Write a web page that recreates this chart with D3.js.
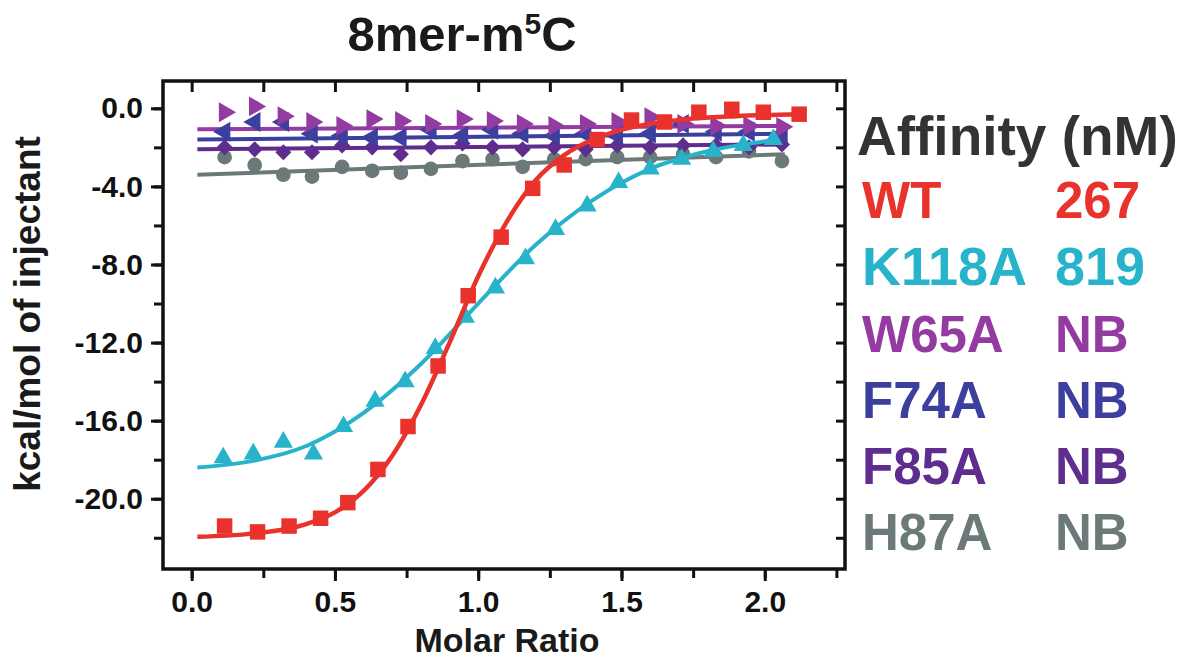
<!DOCTYPE html>
<html>
<head>
<meta charset="utf-8">
<script src="https://cdn.jsdelivr.net/npm/d3@7"></script>
<style>
  body { margin: 0; background: #fff; }
  text { font-family: "Liberation Sans", Arial, sans-serif; font-weight: bold; }
</style>
</head>
<body>
<div id="chart"></div>
<script>
// data
const wtX = [0.115,0.23,0.34,0.45,0.545,0.65,0.755,0.86,0.965,1.08,1.19,1.30,1.415,1.535,1.65,1.77,1.885,1.995,2.12]
const wtY = [-21.4,-21.7,-21.4,-21.0,-20.2,-18.5,-16.3,-13.2,-9.6,-6.6,-4.1,-2.9,-1.6,-0.6,-0.7,-0.2,-0.05,-0.2,-0.3]
const wtFitX = [0.02,0.2,0.4,0.5,0.6,0.7,0.8,0.9,1.0,1.1,1.2,1.3,1.4,1.5,1.7,1.9,2.12]
const wtFitY = [-21.95,-21.8,-21.3,-20.7,-19.6,-17.8,-15.2,-12.0,-8.6,-5.8,-3.7,-2.4,-1.6,-1.1,-0.6,-0.4,-0.3]

const kX = [0.11,0.215,0.32,0.425,0.53,0.64,0.745,0.85,0.955,1.06,1.165,1.27,1.38,1.49,1.6,1.71,1.82,1.925,2.03]
const kY = [-17.9,-17.7,-17.1,-17.7,-16.3,-15.0,-14.0,-12.3,-10.7,-9.2,-7.7,-6.2,-5.0,-3.8,-3.1,-2.6,-2.2,-1.9,-1.6]
const kFitX = [0.02,0.2,0.4,0.6,0.8,1.0,1.2,1.4,1.6,1.8,2.05]
const kFitY = [-18.4,-18.1,-17.3,-15.6,-13.1,-10.0,-7.0,-4.7,-3.1,-2.2,-1.6]

const flatX = [0.115,0.22,0.32,0.42,0.525,0.63,0.73,0.835,0.945,1.05,1.155,1.265,1.375,1.485,1.6,1.715,1.83,1.945,2.06]
const w65aY = [-0.2,0.1,-0.4,-0.7,-0.9,-0.55,-0.65,-0.8,-0.55,-0.65,-0.8,-0.9,-0.8,-0.7,-0.45,-0.8,-0.9,-0.9,-0.95]
const f74aY = [-1.2,-0.7,-0.7,-1.3,-1.4,-1.5,-1.5,-1.1,-1.4,-1.1,-1.3,-1.4,-1.3,-1.4,-1.3,-0.8,-1.2,-1.2,-1.3]
const f85aY = [-2.0,-2.1,-2.25,-2.25,-1.9,-2.0,-2.35,-2.0,-1.8,-2.0,-2.1,-2.0,-2.1,-1.9,-2.0,-1.9,-1.9,-2.0,-1.85]
const h87aY = [-2.5,-2.9,-3.4,-3.5,-3.0,-3.2,-3.3,-3.1,-2.7,-2.6,-3.0,-2.6,-2.6,-2.5,-2.5,-2.35,-2.5,-2.2,-2.7]
const flatFitX = [0.02,2.07]
const w65aFit = [-1.07,-0.9]
const f74aFit = [-1.6,-1.3]
const f85aFit = [-2.1,-1.85]
const h87aFit = [-3.4,-2.35]

const names = ["WT","K118A","W65A","F74A","F85A","H87A"]
const affinity = ["267","819","NB","NB","NB","NB"]
const colors = ["#e8322b","#27b3ca","#943ba2","#3c3f9e","#5e2d8e","#6b7978"]

const xTicks = [0,0.5,1.0,1.5,2.0]
const yTicks = [0,-4,-8,-12,-16,-20]

margin = ({top: 81, right: 342, bottom: 89, left: 163})
width = 1187
height = 658
visWidth = width - margin.left - margin.right
visHeight = height - margin.top - margin.bottom

xscale = d3.scaleLinear().domain([-0.1, 2.28]).range([0, visWidth])
yscale = d3.scaleLinear().domain([-23.6, 1.4]).range([visHeight, 0])

const svg = d3.select('#chart').append('svg')
    .attr('width', width)
    .attr('height', height)

const g = svg.append('g')
    .attr('transform', `translate(${margin.left}, ${margin.top})`)

// title
svg.append("text")
    .attr("x", 462).attr("y", 51)
    .attr("text-anchor", "middle")
    .attr("font-size", "49px")
    .attr("fill", "#1a1a1a")
    .call(t => {
      t.append("tspan").text("8mer-m")
      t.append("tspan").attr("font-size", "30px").attr("dy", -17).text("5")
      t.append("tspan").attr("dy", 17).text("C")
    })

// axes
const minorX = d3.range(-0.0, 2.26, 0.25)
const minorY = d3.range(0, -23.5, -2)
const fmt = d => d.toFixed(1)

function styleAxis(sel) {
  sel.select(".domain").remove()
  sel.selectAll(".tick line").attr("stroke", "#111").attr("stroke-width", 3)
}

g.append("g").attr("transform", `translate(0,${visHeight})`)
    .call(d3.axisBottom(xscale).tickValues(minorX).tickSize(9).tickFormat(""))
    .call(styleAxis)
g.append("g").attr("transform", `translate(0,${visHeight})`)
    .call(d3.axisBottom(xscale).tickValues(xTicks).tickSize(12).tickPadding(10).tickFormat(fmt))
    .call(styleAxis)
    .call(a => a.selectAll("text").attr("font-size", "30px").attr("fill", "#111").attr("font-family", "Liberation Sans"))

g.append("g")
    .call(d3.axisTop(xscale).tickValues(minorX).tickSize(-11).tickFormat(""))
    .call(styleAxis)

g.append("g")
    .call(d3.axisLeft(yscale).tickValues(minorY).tickSize(9).tickFormat(""))
    .call(styleAxis)
g.append("g")
    .call(d3.axisLeft(yscale).tickValues(yTicks).tickSize(12).tickPadding(8).tickFormat(fmt))
    .call(styleAxis)
    .call(a => a.selectAll("text").attr("font-size", "30px").attr("fill", "#111").attr("font-family", "Liberation Sans"))

g.append("g").attr("transform", `translate(${visWidth},0)`)
    .call(d3.axisRight(yscale).tickValues(minorY).tickSize(-9).tickFormat(""))
    .call(styleAxis)

// frame
g.append("rect")
    .attr("width", visWidth).attr("height", visHeight)
    .attr("fill", "none").attr("stroke", "#111").attr("stroke-width", 3.5)

// axis labels
svg.append("text")
    .attr("x", 507).attr("y", 652)
    .attr("text-anchor", "middle")
    .attr("font-size", "34px")
    .attr("fill", "#1a1a1a")
    .text("Molar Ratio")

svg.append("text")
    .attr("transform", "translate(40,314) rotate(-90)")
    .attr("text-anchor", "middle")
    .attr("font-size", "37px")
    .attr("fill", "#1a1a1a")
    .text("kcal/mol of injectant")

// fit lines
const line = d3.line().x(d => xscale(d[0])).y(d => yscale(d[1])).curve(d3.curveMonotoneX)
const zip = (a, b) => a.map((v, i) => [v, b[i]])

const flats = [
  {c: colors[5], fit: h87aFit, ys: h87aY, sym: d3.symbolCircle, size: 170, rot: 0},
  {c: colors[4], fit: f85aFit, ys: f85aY, sym: d3.symbolSquare, size: 130, rot: 45},
  {c: colors[3], fit: f74aFit, ys: f74aY, sym: d3.symbolTriangle, size: 170, rot: -90},
  {c: colors[2], fit: w65aFit, ys: w65aY, sym: d3.symbolTriangle, size: 170, rot: 90}
]

flats.forEach(s => {
  g.append("path")
      .datum(zip(flatFitX, s.fit))
      .attr("fill", "none").attr("stroke", s.c).attr("stroke-width", 4)
      .attr("d", line)
})
flats.forEach(s => {
  g.selectAll(null)
    .data(zip(flatX, s.ys))
    .join("path")
      .attr("transform", d => `translate(${xscale(d[0])},${yscale(d[1])}) rotate(${s.rot})`)
      .attr("d", d3.symbol().type(s.sym).size(s.size))
      .attr("fill", s.c)
})

// K118A
g.append("path")
    .datum(zip(kFitX, kFitY))
    .attr("fill", "none").attr("stroke", colors[1]).attr("stroke-width", 4)
    .attr("d", line)
g.selectAll(null)
  .data(zip(kX, kY))
  .join("path")
    .attr("transform", d => `translate(${xscale(d[0])},${yscale(d[1])})`)
    .attr("d", d3.symbol().type(d3.symbolTriangle).size(160))
    .attr("fill", colors[1])

// WT
g.append("path")
    .datum(zip(wtFitX, wtFitY))
    .attr("fill", "none").attr("stroke", colors[0]).attr("stroke-width", 4.5)
    .attr("d", line)
g.selectAll(null)
  .data(zip(wtX, wtY))
  .join("path")
    .attr("transform", d => `translate(${xscale(d[0])},${yscale(d[1])})`)
    .attr("d", d3.symbol().type(d3.symbolSquare).size(240))
    .attr("fill", colors[0])

// legend
svg.append("text")
    .attr("x", 857).attr("y", 155)
    .attr("font-size", "55px")
    .attr("fill", "#333")
    .text("Affinity (nM)")

const rowY = [218, 285, 352, 418, 484, 550]
names.forEach((n, i) => {
  const w = i == 1 ? "normal" : "bold"
  svg.append("text").attr("x", 862).attr("y", rowY[i])
    .attr("font-size", i == 1 ? "54px" : "51px").attr("font-weight", w).attr("fill", colors[i]).text(n)
  svg.append("text").attr("x", 1055).attr("y", rowY[i])
    .attr("font-size", i == 1 ? "54px" : "51px").attr("font-weight", w).attr("fill", colors[i]).text(affinity[i])
})
</script>
</body>
</html>
